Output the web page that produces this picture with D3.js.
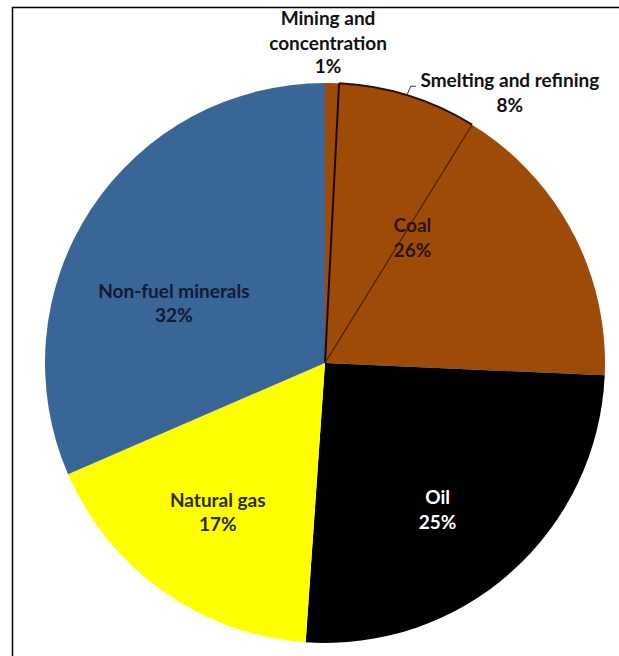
<!DOCTYPE html>
<html>
<head>
<meta charset="utf-8">
<script src="https://cdn.jsdelivr.net/npm/d3@7"></script>
<style>
  body { margin: 0; background: #fff; }
  svg text { font-family: Lato, "Open Sans", sans-serif; font-weight: 700; font-size: 19px; }
</style>
</head>
<body>
<div id="chart"></div>
<script>
// shares (printed labels are rounded)
const sectors = ['Coal', 'Oil', 'Natural gas', 'Non-fuel minerals'];
const sectorShares = [25.7, 25.4, 17.4, 31.5];

// stages carved out of the top of the coal slice
const coalStages = ['Mining and concentration', 'Smelting and refining'];
const coalStageShares = [0.8, 8.0];

const width = 619;
const height = 656;
const cx = 325;
const cy = 363;
const radius = 280;

const color = d3.scaleOrdinal()
  .domain(sectors)
  .range(['#9e4b07', '#000000', '#ffff00', '#3a6597']);

const textColor = d3.scaleOrdinal()
  .domain(sectors)
  .range(['#2a1408', '#ffffff', '#2b2b10', '#101a33']);

// nudges from the centroid, like Excel's best-fit placement
const labelNudge = {
  'Coal': [-38, -11],
  'Oil': [-3, 12],
  'Natural gas': [-7, 2],
  'Non-fuel minerals': [-6, 30],
};

const pct = d3.scaleLinear().domain([0, 100]).range([0, 2 * Math.PI]);

const svg = d3.select('#chart').append('svg')
  .attr('width', width)
  .attr('height', height);

// frame
svg.append('rect')
  .attr('x', 12.5)
  .attr('y', 7.5)
  .attr('width', width + 20)
  .attr('height', height + 20)
  .attr('fill', 'none')
  .attr('stroke', '#000')
  .attr('stroke-width', 1.5);

const g = svg.append('g').attr('transform', `translate(${cx},${cy})`);

const data = sectors.map((s, i) => ({ name: s, share: sectorShares[i] }));
const pie = d3.pie().sort(null).value(d => d.share);
const arcs = pie(data);
const arc = d3.arc().innerRadius(0).outerRadius(radius);
const labelArc = d3.arc().innerRadius(radius * 0.62).outerRadius(radius * 0.62);

g.selectAll('path.slice')
  .data(arcs)
  .enter().append('path')
  .attr('class', 'slice')
  .attr('d', arc)
  .attr('fill', d => color(d.data.name));

// coal stages
let acc = 0;
const stages = coalStages.map((s, i) => {
  const st = { name: s, share: coalStageShares[i], startAngle: pct(acc), endAngle: pct(acc + coalStageShares[i]) };
  acc += coalStageShares[i];
  return st;
});

const radial = a => [radius * Math.sin(a), -radius * Math.cos(a)];

// mining / smelting boundary
g.append('line')
  .attr('x1', 0).attr('y1', 0)
  .attr('x2', radial(stages[0].endAngle)[0])
  .attr('y2', radial(stages[0].endAngle)[1])
  .attr('stroke', '#1a0a00')
  .attr('stroke-width', 2);

// smelting / rest of coal boundary
g.append('line')
  .attr('x1', 0).attr('y1', 0)
  .attr('x2', radial(stages[1].endAngle)[0])
  .attr('y2', radial(stages[1].endAngle)[1])
  .attr('stroke', '#4a2000')
  .attr('stroke-width', 1.2);

// smelting outer rim
const rim = d3.arc().innerRadius(radius - 1).outerRadius(radius + 1);
g.append('path')
  .attr('d', rim({ startAngle: stages[1].startAngle, endAngle: stages[1].endAngle }))
  .attr('fill', '#2a1200');

// inner labels
const labels = g.selectAll('text.lbl')
  .data(arcs)
  .enter().append('text')
  .attr('class', 'lbl')
  .attr('text-anchor', 'middle')
  .attr('fill', d => textColor(d.data.name))
  .attr('transform', d => {
    const c = labelArc.centroid(d);
    const n = labelNudge[d.data.name];
    return `translate(${c[0] + n[0]},${c[1] + n[1]})`;
  });
labels.append('tspan').attr('x', 0).attr('dy', 0).text(d => d.data.name);
labels.append('tspan').attr('x', 0).attr('dy', '1.3em').text(d => Math.round(d.data.share) + '%');

// outside labels for the coal stages
const mMid = (stages[0].startAngle + stages[0].endAngle) / 2;
const mining = g.append('text')
  .attr('text-anchor', 'middle')
  .attr('fill', '#111')
  .attr('transform', `translate(${radial(mMid)[0] - 4},${-radius - 58})`);
mining.append('tspan').attr('x', 0).attr('dy', 0).text('Mining and');
mining.append('tspan').attr('x', 0).attr('dy', '1.3em').text('concentration');
mining.append('tspan').attr('x', 0).attr('dy', '1.25em').text(Math.round(stages[0].share) + '%');

// smelting label with its leader
const sAngle = stages[1].startAngle + (stages[1].endAngle - stages[1].startAngle) * 0.49;
const sAnchor = radial(sAngle);
g.append('path')
  .attr('d', `M${sAnchor[0]},${sAnchor[1]} L${sAnchor[0] + 4},${sAnchor[1] - 9} L${sAnchor[0] + 9},${sAnchor[1] - 9}`)
  .attr('fill', 'none')
  .attr('stroke', '#333')
  .attr('stroke-width', 1);
const smelt = g.append('text')
  .attr('text-anchor', 'middle')
  .attr('fill', '#111')
  .attr('transform', `translate(${sAnchor[0] + 103},${sAnchor[1] - 8})`);
smelt.append('tspan').attr('x', 0).attr('dy', 0).text('Smelting and refining');
smelt.append('tspan').attr('x', 0).attr('dy', '1.3em').text(Math.round(stages[1].share) + '%');
</script>
</body>
</html>
